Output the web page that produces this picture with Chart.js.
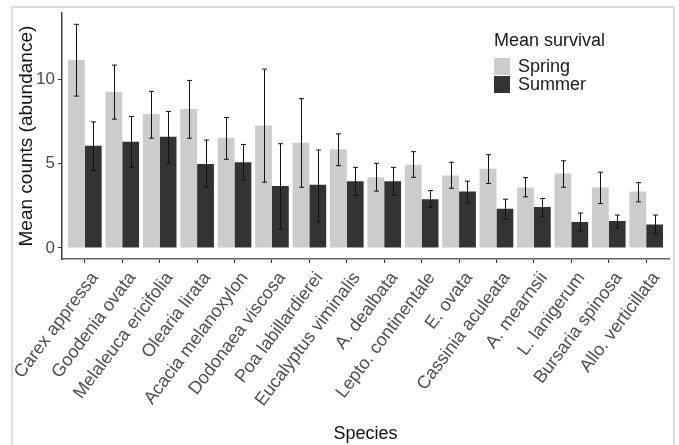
<!DOCTYPE html>
<html lang="en">
<head>
  <title>Mean survival</title>
  <meta charset="utf-8">
  <script src="https://cdn.jsdelivr.net/npm/chart.js"></script>
  <style>
    html, body { margin: 0; padding: 0; background: #fff; }
    .wrap { position: relative; width: 679px; height: 445px; overflow: hidden; }
    .frame { position: absolute; left: 11px; top: 6px; width: 660px; height: 460px; border: 2px solid #dcdcdc; }
    #chart { position: absolute; left: 0; top: 0; }
  </style>
</head>
<body>
<div class="wrap">
  <div class="frame"></div>
  <canvas id="chart" width="679" height="445"></canvas>
</div>
<script>
  const categories = ['Carex appressa', 'Goodenia ovata', 'Melaleuca ericifolia', 'Olearia lirata',
    'Acacia melanoxylon', 'Dodonaea viscosa', 'Poa labillardierei', 'Eucalyptus viminalis',
    'A. dealbata', 'Lepto. continentale', 'E. ovata', 'Cassinia aculeata', 'A. mearnsii',
    'L. lanigerum', 'Bursaria spinosa', 'Allo. verticillata'];
  const springMean = [11.16, 9.27, 7.95, 8.25, 6.53, 7.26, 6.24, 5.85, 4.19, 4.94, 4.29, 4.70, 3.58, 4.41, 3.58, 3.34];
  const springLow = [9.01, 7.64, 6.51, 6.51, 5.26, 3.90, 3.60, 4.88, 3.37, 4.19, 3.54, 3.82, 3.03, 3.60, 2.63, 2.73];
  const springHigh = [13.27, 10.85, 9.29, 9.94, 7.74, 10.61, 8.86, 6.77, 5.02, 5.71, 5.08, 5.53, 4.17, 5.17, 4.49, 3.87];
  const summerMean = [6.06, 6.30, 6.59, 4.98, 5.08, 3.68, 3.74, 3.96, 3.96, 2.89, 3.34, 2.32, 2.42, 1.53, 1.59, 1.39];
  const summerLow = [4.60, 4.78, 5.02, 3.60, 4.03, 1.12, 1.55, 3.11, 3.11, 2.40, 2.68, 1.69, 1.85, 1.00, 1.16, 0.84];
  const summerHigh = [7.48, 7.80, 8.09, 6.40, 6.14, 6.18, 5.81, 4.78, 4.78, 3.40, 3.96, 2.89, 2.93, 2.07, 1.95, 1.95];
  const yTicks = [0, 5, 10];

  const FONT = '"Liberation Sans", Arial, sans-serif';

  const toPoints = (arr) => arr.map((v, i) => ({ x: i, y: v }));

  // error bars drawn over each bar, through the y scale
  const errorBars = {
    id: 'errorBars',
    afterDatasetsDraw: (chart) => {
      const { ctx, scales: { y } } = chart;
      ctx.save();
      ctx.strokeStyle = '#111';
      ctx.lineWidth = 1;
      chart.data.datasets.forEach((ds, di) => {
        const meta = chart.getDatasetMeta(di);
        meta.data.forEach((bar, i) => {
          const x = Math.round(bar.x) + 0.5;
          const top = y.getPixelForValue(ds.errHigh[i]);
          const bottom = y.getPixelForValue(ds.errLow[i]);
          ctx.beginPath();
          ctx.moveTo(x, top);
          ctx.lineTo(x, bottom);
          ctx.moveTo(x - 2.5, top);
          ctx.lineTo(x + 2.5, top);
          ctx.moveTo(x - 2.5, bottom);
          ctx.lineTo(x + 2.5, bottom);
          ctx.stroke();
        });
      });
      ctx.restore();
    }
  };

  // legend placed inside the panel, top right
  const insideLegend = {
    id: 'insideLegend',
    afterDraw: (chart, args, opts) => {
      const { ctx } = chart;
      ctx.save();
      ctx.textBaseline = 'middle';
      ctx.textAlign = 'left';
      ctx.fillStyle = '#1a1a1a';
      ctx.font = '18px ' + FONT;
      ctx.fillText(opts.title, opts.x, opts.y);
      chart.data.datasets.forEach((ds, i) => {
        const ky = opts.y + 17 + i * 18;
        ctx.fillStyle = ds.backgroundColor;
        ctx.fillRect(opts.x, ky, 16, 17);
        ctx.fillStyle = '#1a1a1a';
        ctx.font = '18px ' + FONT;
        ctx.fillText(ds.label, opts.x + 24, ky + 9);
      });
      ctx.restore();
    }
  };

  new Chart(document.getElementById('chart'), {
    type: 'bar',
    data: {
      datasets: [{
        label: 'Spring',
        data: toPoints(springMean),
        errLow: springLow,
        errHigh: springHigh,
        backgroundColor: '#cccccc',
        borderWidth: 0,
        categoryPercentage: 0.9,
        barPercentage: 1.0
      }, {
        label: 'Summer',
        data: toPoints(summerMean),
        errLow: summerLow,
        errHigh: summerHigh,
        backgroundColor: '#333333',
        borderWidth: 0,
        categoryPercentage: 0.9,
        barPercentage: 1.0
      }]
    },
    options: {
      responsive: false,
      animation: false,
      layout: { padding: { top: 13, right: 10, left: 0, bottom: 0 } },
      plugins: {
        legend: { display: false },
        tooltip: { enabled: false },
        insideLegend: { title: 'Mean survival', x: 494, y: 41 }
      },
      scales: {
        x: {
          type: 'linear',
          min: -0.61,
          max: 15.61,
          offset: false,
          afterBuildTicks: (scale) => { scale.ticks = categories.map((c, i) => ({ value: i })); },
          afterFit: (scale) => { scale.height = 186; },
          grid: { display: true, offset: false, drawOnChartArea: false, drawTicks: true, tickLength: 4, color: '#333' },
          border: { display: true, color: '#666', width: 1.5 },
          ticks: {
            autoSkip: false,
            minRotation: 53,
            maxRotation: 53,
            labelOffset: 10,
            padding: 5,
            color: '#4d4d4d',
            font: { family: FONT, size: 18 },
            callback: (v) => categories[v]
          },
          title: {
            display: true,
            text: 'Species',
            color: '#111',
            font: { family: FONT, size: 18 },
            padding: { top: 0, bottom: 0 }
          }
        },
        y: {
          min: -0.66,
          max: 13.93,
          afterBuildTicks: (scale) => { scale.ticks = yTicks.map((v) => ({ value: v })); },
          afterFit: (scale) => { scale.width = 62; },
          grid: { display: true, drawOnChartArea: false, drawTicks: true, tickLength: 4, color: '#333' },
          border: { display: true, color: '#444', width: 1.5 },
          ticks: {
            padding: 3,
            color: '#4d4d4d',
            font: { family: FONT, size: 17 }
          },
          title: {
            display: true,
            text: 'Mean counts (abundance)',
            color: '#111',
            font: { family: FONT, size: 19 },
            padding: { top: 15, bottom: 0 }
          }
        }
      }
    },
    plugins: [errorBars, insideLegend]
  });
</script>
</body>
</html>
